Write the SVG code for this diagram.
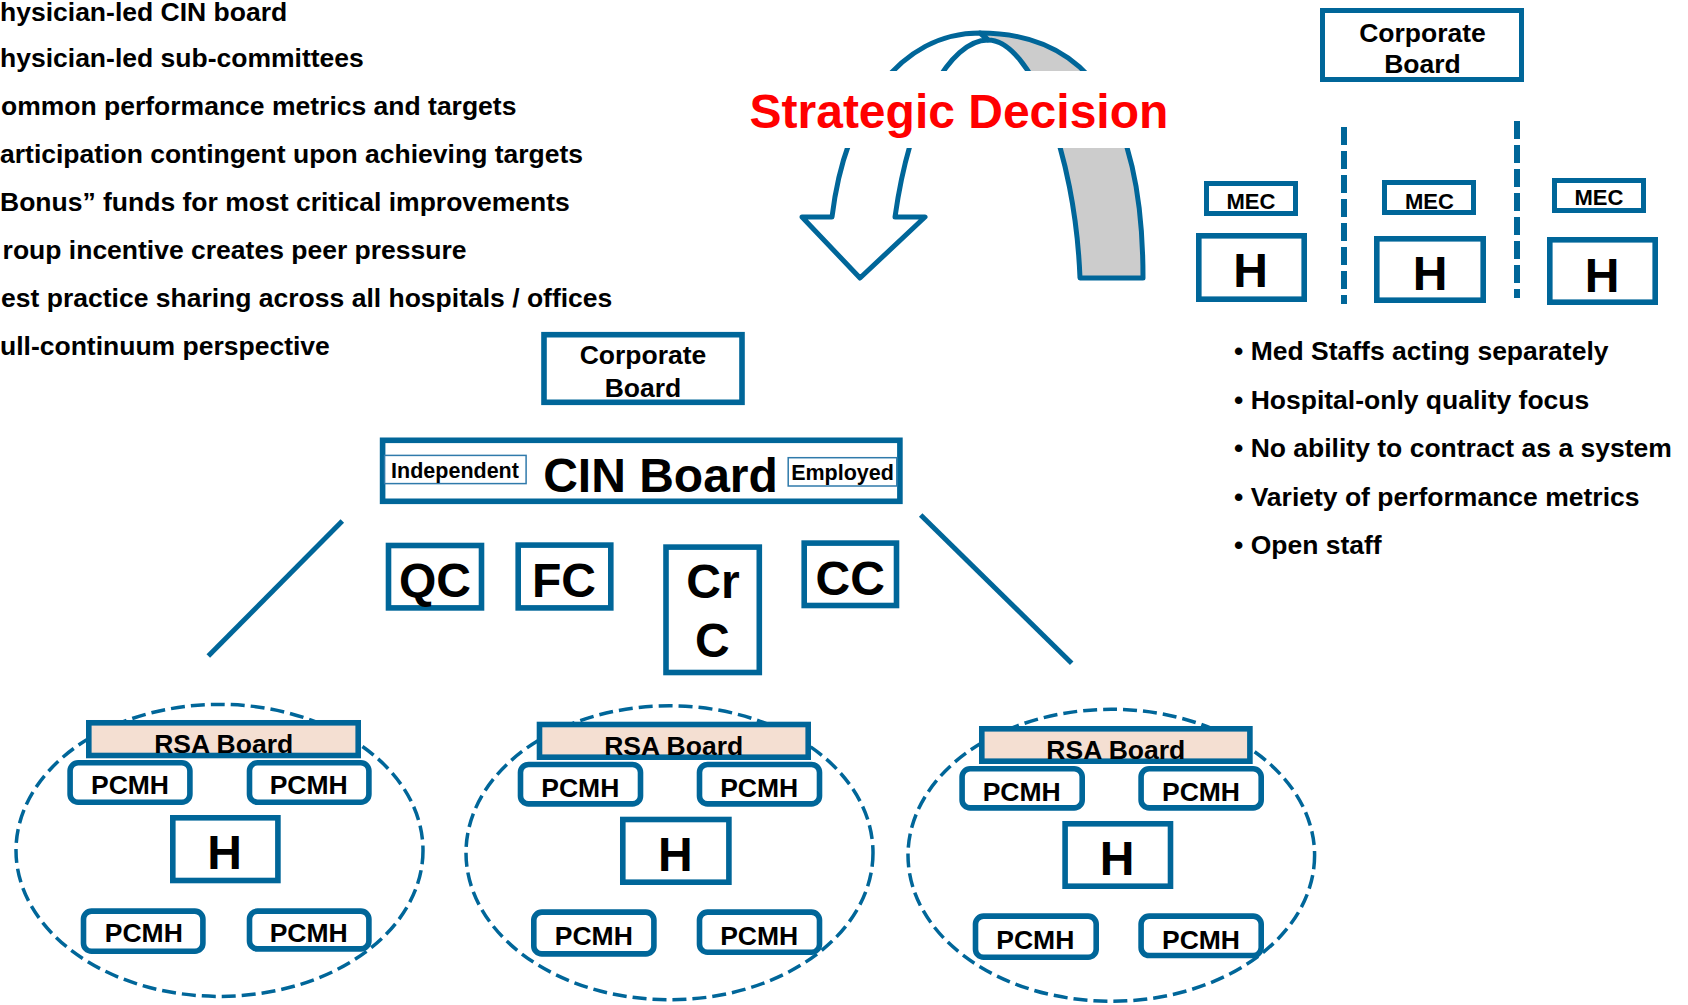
<svg xmlns="http://www.w3.org/2000/svg" width="1688" height="1005" viewBox="0 0 1688 1005">
<style>
text{font-family:"Liberation Sans",Arial,sans-serif;font-weight:bold;fill:#000}
.box{fill:#fff;stroke:#006699;stroke-width:5.6}
.mec{fill:#fff;stroke:#006699;stroke-width:5}
.rsa{fill:#f4dfd2;stroke:#006699;stroke-width:5.6}
.pc{fill:#fff;stroke:#006699;stroke-width:5.6}
.thin{fill:#fff;stroke:#2f7aab;stroke-width:1.5}
.ell{fill:none;stroke:#006699;stroke-width:3.5;stroke-dasharray:14 6}
.sep{stroke:#006699;stroke-width:6;stroke-dasharray:18 6}
.ln{stroke:#006699;stroke-width:5}
.arw{stroke:#006699;stroke-width:5;stroke-linejoin:round}
.c{text-anchor:middle}
.bl{font-size:26.5px}
.pt{font-size:26.5px}
.big{font-size:48px}
</style>
<rect width="1688" height="1005" fill="#fff"/>

<g id="left-bullets" class="bl">
<text x="0" y="21">hysician-led CIN board</text>
<text x="0" y="67">hysician-led sub-committees</text>
<text x="1" y="115">ommon performance metrics and targets</text>
<text x="0" y="163">articipation contingent upon achieving targets</text>
<text x="0" y="211">Bonus” funds for most critical improvements</text>
<text x="2.6" y="259">roup incentive creates peer pressure</text>
<text x="1.1" y="307">est practice sharing across all hospitals / offices</text>
<text x="0" y="355">ull-continuum perspective</text>
</g>

<g id="strategic-arrow">
<path class="arw" fill="#cccccc" d="M980,33 C1100,33 1143,130 1143,278 L1080,278 C1075,150 1030,40 988,40 Z"/>
<path class="arw" fill="#fff" d="M980,33 C900,33 845,110 832,217 L802,217 L860,278 L925,217 L895,217 C910,110 950,40 988,40 Z"/>
<rect x="740" y="71" width="432" height="77" fill="#fff"/>
<text x="749.5" y="128" style="font-size:48px;fill:#ff0000">Strategic Decision</text>
</g>

<g id="corp-board-top">
<rect class="mec" x="1322.5" y="10.5" width="199" height="69"/>
<text class="c pt" x="1422.5" y="42">Corporate</text>
<text class="c pt" x="1422.5" y="73">Board</text>
</g>
<g id="mec1"><rect class="mec" x="1206.5" y="183.5" width="89" height="30"/><text class="c" x="1251" y="209" style="font-size:22px">MEC</text></g>
<g id="mec2"><rect class="mec" x="1384.5" y="182.5" width="89" height="30"/><text class="c" x="1429.5" y="209" style="font-size:22px">MEC</text></g>
<g id="mec3"><rect class="mec" x="1554.5" y="180.5" width="89" height="30"/><text class="c" x="1599" y="205" style="font-size:22px">MEC</text></g>
<g id="h-top1"><rect class="box" x="1198.8" y="235.8" width="105.4" height="63.4"/><text class="c big" x="1250.5" y="287">H</text></g>
<g id="h-top2"><rect class="box" x="1376.8" y="238.8" width="106.4" height="61.4"/><text class="c big" x="1430" y="290">H</text></g>
<g id="h-top3"><rect class="box" x="1549.8" y="239.8" width="105.4" height="62.4"/><text class="c big" x="1602" y="292">H</text></g>

<g id="right-bullets" class="bl">
<text x="1234" y="360">• Med Staffs acting separately</text>
<text x="1234" y="408.5">• Hospital-only quality focus</text>
<text x="1234" y="457">• No ability to contract as a system</text>
<text x="1234" y="505.5">• Variety of performance metrics</text>
<text x="1234" y="554">• Open staff</text>
</g>

<g id="corp-board-mid">
<rect class="box" x="544" y="334.7" width="198" height="67.6"/>
<text class="c pt" x="643" y="364.3">Corporate</text>
<text class="c pt" x="643" y="396.7">Board</text>
</g>
<g id="cin-board">
<rect class="box" x="382.6" y="440.3" width="517.3" height="61"/>
<rect class="thin" x="384.6" y="455.4" width="141.5" height="28.2"/>
<text class="c" x="455" y="478.3" style="font-size:21.5px">Independent</text>
<rect class="thin" x="788.2" y="457.7" width="108.6" height="28.3"/>
<text class="c" x="842.5" y="480" style="font-size:21.5px">Employed</text>
<text class="c" x="660.5" y="491.7" style="font-size:48px">CIN Board</text>
</g>
<g id="qc"><rect class="box" x="388.5" y="545.5" width="93" height="62.4"/><text class="c big" x="435" y="597.3">QC</text></g>
<g id="fc"><rect class="box" x="518.2" y="545.1" width="92.6" height="62.8"/><text class="c big" x="564" y="596.7">FC</text></g>
<g id="crc"><rect class="box" x="666" y="547.1" width="93.3" height="125.4"/><text class="c big" x="713" y="598.3">Cr</text><text class="c big" x="712.3" y="656.7">C</text></g>
<g id="cc"><rect class="box" x="804.2" y="543.1" width="92.3" height="62.4"/><text class="c big" x="850.2" y="595">CC</text></g>

<g id="connectors">
<line class="ln" x1="342.3" y1="521" x2="208.3" y2="656"/>
<line class="ln" x1="920.7" y1="515" x2="1071.7" y2="663.3"/>
<line class="sep" x1="1344" y1="127" x2="1344" y2="304"/>
<line class="sep" x1="1517" y1="121" x2="1517" y2="298"/>
</g>

<g id="rsa1">
<ellipse class="ell" cx="219.5" cy="850.4" rx="203.5" ry="146"/>
<rect class="rsa" x="88.8" y="722.8" width="269.4" height="32.7"/>
<text class="c pt" x="223.7" y="753.3">RSA Board</text>
<rect class="pc" x="70.1" y="762.8" width="119.8" height="39.4" rx="8"/><text class="c pt" x="130" y="794.3">PCMH</text>
<rect class="pc" x="249.5" y="762.8" width="119.4" height="39.4" rx="8"/><text class="c pt" x="308.7" y="794.3">PCMH</text>
<rect class="box" x="172.8" y="817.8" width="105.1" height="62.7"/><text class="c big" x="224.7" y="869">H</text>
<rect class="pc" x="83.5" y="911.1" width="119.4" height="40.1" rx="8"/><text class="c pt" x="143.8" y="941.7">PCMH</text>
<rect class="pc" x="249.5" y="911.1" width="119.4" height="37.8" rx="8"/><text class="c pt" x="308.7" y="941.7">PCMH</text>
</g>

<g id="rsa2">
<ellipse class="ell" cx="669.5" cy="852.8" rx="203.5" ry="147"/>
<rect class="rsa" x="539.5" y="724.5" width="268.7" height="32.7"/>
<text class="c pt" x="673.7" y="755">RSA Board</text>
<rect class="pc" x="520.5" y="764.5" width="120" height="39.4" rx="8"/><text class="c pt" x="580.3" y="796.7">PCMH</text>
<rect class="pc" x="699.5" y="764.5" width="120" height="39.4" rx="8"/><text class="c pt" x="759.2" y="796.7">PCMH</text>
<rect class="box" x="622.8" y="819.5" width="106.1" height="62.7"/><text class="c big" x="675.3" y="871">H</text>
<rect class="pc" x="533.8" y="912.1" width="120.1" height="41.8" rx="8"/><text class="c pt" x="593.8" y="945">PCMH</text>
<rect class="pc" x="699.5" y="912.1" width="120" height="40.1" rx="8"/><text class="c pt" x="759.2" y="945">PCMH</text>
</g>

<g id="rsa3">
<ellipse class="ell" cx="1111.3" cy="855.3" rx="203.3" ry="146"/>
<rect class="rsa" x="981.8" y="728.8" width="268.1" height="32.4"/>
<text class="c pt" x="1115.8" y="759">RSA Board</text>
<rect class="pc" x="962.1" y="768.8" width="120.1" height="39.1" rx="8"/><text class="c pt" x="1021.7" y="800.7">PCMH</text>
<rect class="pc" x="1141.1" y="768.8" width="120.1" height="39.1" rx="8"/><text class="c pt" x="1201" y="800.7">PCMH</text>
<rect class="box" x="1065.1" y="823.8" width="105.4" height="62.4"/><text class="c big" x="1117" y="875">H</text>
<rect class="pc" x="975.5" y="916.1" width="120.7" height="41.1" rx="8"/><text class="c pt" x="1035.3" y="949">PCMH</text>
<rect class="pc" x="1141.1" y="916.1" width="120.1" height="39.4" rx="8"/><text class="c pt" x="1201" y="949">PCMH</text>
</g>
</svg>
